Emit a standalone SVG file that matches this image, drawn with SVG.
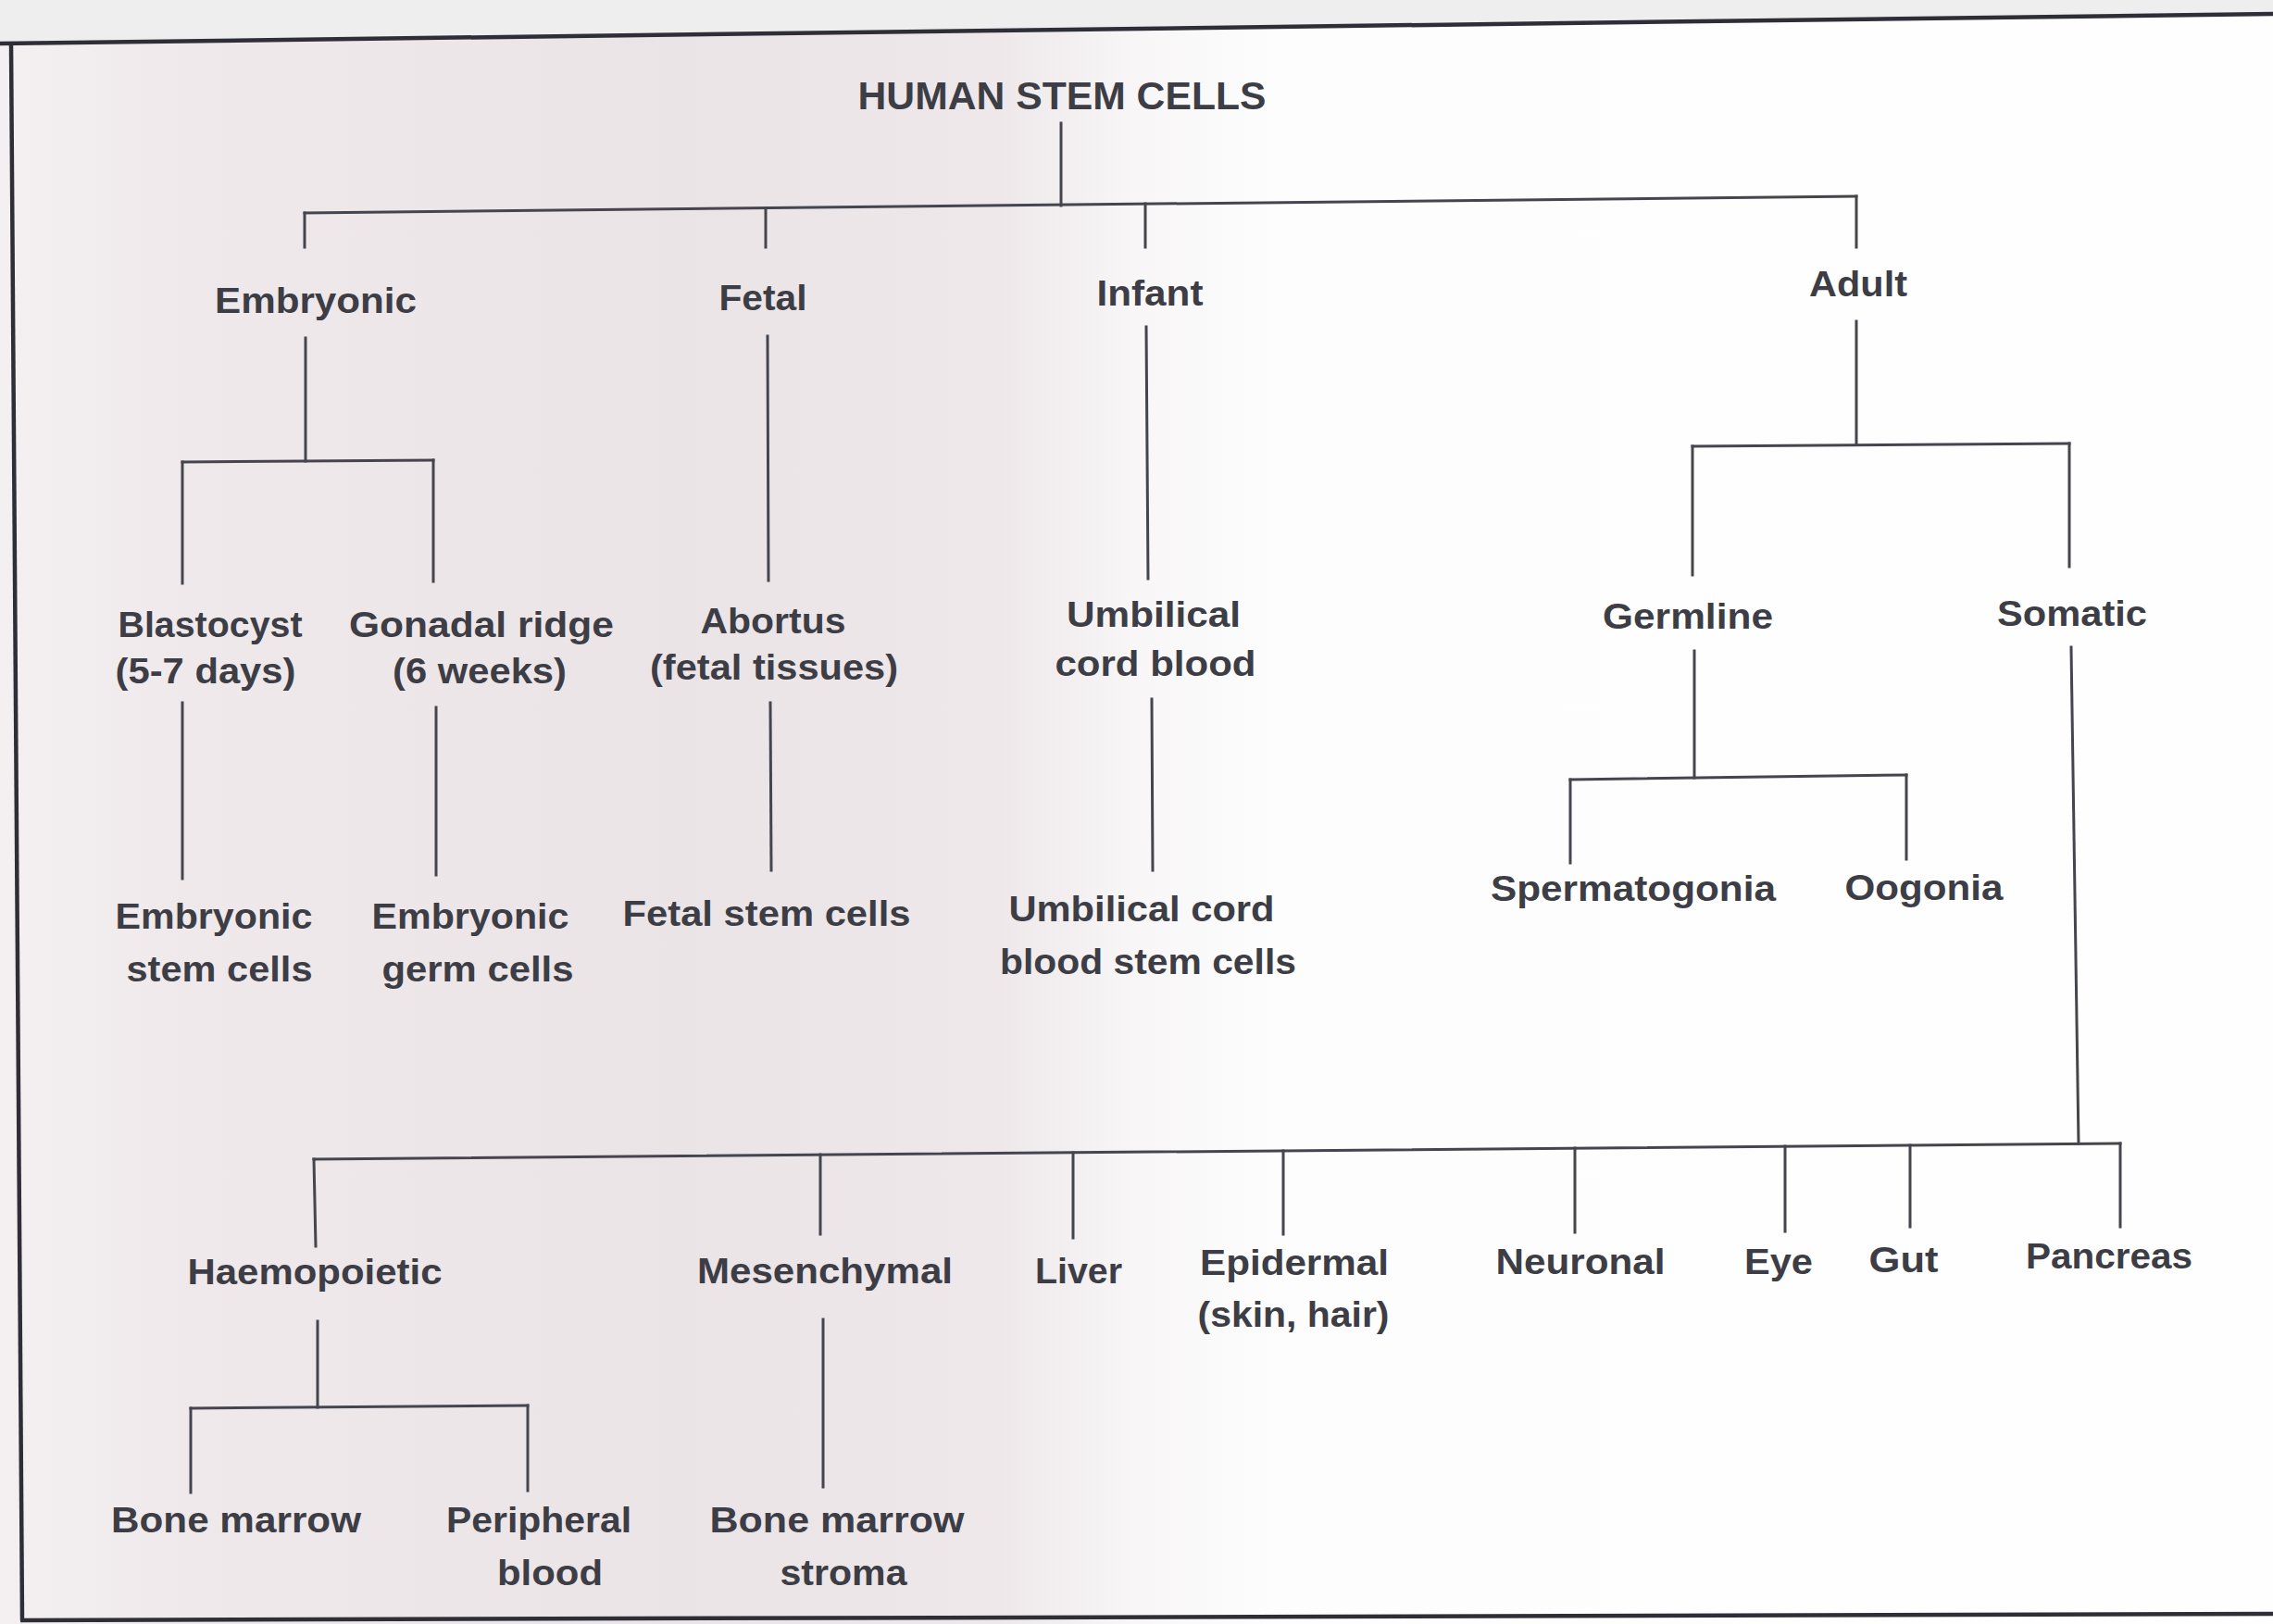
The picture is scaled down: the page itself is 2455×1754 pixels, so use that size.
<svg xmlns="http://www.w3.org/2000/svg" width="2455" height="1754" viewBox="0 0 2455 1754">
<defs>
<linearGradient id="bg" x1="0" y1="0" x2="1" y2="0">
<stop offset="0" stop-color="#f4f0f1"/>
<stop offset="0.08" stop-color="#efe9eb"/>
<stop offset="0.3" stop-color="#ebe4e6"/>
<stop offset="0.44" stop-color="#eee8ea"/>
<stop offset="0.5" stop-color="#f8f6f7"/>
<stop offset="0.56" stop-color="#fdfdfd"/>
<stop offset="1" stop-color="#fefefe"/>
</linearGradient>
<style>
.t{font-family:"Liberation Sans",Arial,sans-serif;font-weight:bold;font-size:39px;fill:#3d3d45;text-anchor:middle}
.root{font-size:43px}
.c{stroke:#45454e;stroke-width:3;fill:none;stroke-linecap:square}
.b{stroke:#2e2e36;stroke-width:4.5;fill:none}
</style>
</defs>
<rect x="0" y="0" width="2455" height="1754" fill="url(#bg)"/>
<polygon points="0,0 2455,0 2455,15 0,47" fill="#eeeeee"/>
<g id="frame">
<line class="b" x1="0" y1="47" x2="2455" y2="15"/>
<line class="b" x1="12" y1="47" x2="24" y2="1750"/>
<line class="b" x1="22" y1="1750" x2="2455" y2="1743"/>
</g>
<g id="connectors">
<line class="c" x1="1146" y1="133" x2="1146" y2="222"/>
<line class="c" x1="329" y1="230" x2="2005" y2="212"/>
<line class="c" x1="329" y1="230" x2="329" y2="267"/>
<line class="c" x1="827" y1="225" x2="827" y2="267"/>
<line class="c" x1="1237" y1="220" x2="1237" y2="267"/>
<line class="c" x1="2005" y1="212" x2="2005" y2="267"/>
<line class="c" x1="330" y1="365" x2="330" y2="498"/>
<line class="c" x1="197" y1="499" x2="468" y2="497"/>
<line class="c" x1="197" y1="499" x2="197" y2="630"/>
<line class="c" x1="468" y1="497" x2="468" y2="628"/>
<line class="c" x1="829" y1="363" x2="830" y2="627"/>
<line class="c" x1="1238" y1="353" x2="1240" y2="625"/>
<line class="c" x1="2005" y1="347" x2="2005" y2="480"/>
<line class="c" x1="1828" y1="482" x2="2235" y2="479"/>
<line class="c" x1="1828" y1="482" x2="1828" y2="621"/>
<line class="c" x1="2235" y1="479" x2="2235" y2="612"/>
<line class="c" x1="197" y1="759" x2="197" y2="949"/>
<line class="c" x1="471" y1="764" x2="471" y2="945"/>
<line class="c" x1="832" y1="759" x2="833" y2="940"/>
<line class="c" x1="1244" y1="755" x2="1245" y2="940"/>
<line class="c" x1="1830" y1="703" x2="1830" y2="840"/>
<line class="c" x1="1696" y1="842" x2="2059" y2="837"/>
<line class="c" x1="1696" y1="842" x2="1696" y2="932"/>
<line class="c" x1="2059" y1="837" x2="2059" y2="928"/>
<line class="c" x1="2237" y1="699" x2="2245" y2="1235"/>
<line class="c" x1="339" y1="1252" x2="2290" y2="1235"/>
<line class="c" x1="339" y1="1252" x2="341" y2="1346"/>
<line class="c" x1="886" y1="1247" x2="886" y2="1333"/>
<line class="c" x1="1159" y1="1245" x2="1159" y2="1337"/>
<line class="c" x1="1386" y1="1243" x2="1386" y2="1333"/>
<line class="c" x1="1701" y1="1240" x2="1701" y2="1331"/>
<line class="c" x1="1928" y1="1238" x2="1928" y2="1330"/>
<line class="c" x1="2063" y1="1237" x2="2063" y2="1325"/>
<line class="c" x1="2290" y1="1235" x2="2290" y2="1325"/>
<line class="c" x1="343" y1="1427" x2="343" y2="1520"/>
<line class="c" x1="206" y1="1521" x2="570" y2="1518"/>
<line class="c" x1="206" y1="1521" x2="206" y2="1612"/>
<line class="c" x1="570" y1="1518" x2="570" y2="1610"/>
<line class="c" x1="889" y1="1425" x2="889" y2="1606"/>
</g>
<g id="n-root"><text class="t root" x="1147" y="118" textLength="441" lengthAdjust="spacingAndGlyphs">HUMAN STEM CELLS</text></g>
<g id="n-embryonic"><text class="t" x="341" y="338" textLength="218" lengthAdjust="spacingAndGlyphs">Embryonic</text></g>
<g id="n-fetal"><text class="t" x="824" y="335" textLength="95" lengthAdjust="spacingAndGlyphs">Fetal</text></g>
<g id="n-infant"><text class="t" x="1242" y="330" textLength="115" lengthAdjust="spacingAndGlyphs">Infant</text></g>
<g id="n-adult"><text class="t" x="2007" y="320" textLength="106" lengthAdjust="spacingAndGlyphs">Adult</text></g>
<g id="n-blastocyst"><text class="t" x="227" y="688" textLength="199" lengthAdjust="spacingAndGlyphs">Blastocyst</text><text class="t" x="222" y="738" textLength="195" lengthAdjust="spacingAndGlyphs">(5-7 days)</text></g>
<g id="n-gonadal"><text class="t" x="520" y="688" textLength="286" lengthAdjust="spacingAndGlyphs">Gonadal ridge</text><text class="t" x="518" y="738" textLength="188" lengthAdjust="spacingAndGlyphs">(6 weeks)</text></g>
<g id="n-abortus"><text class="t" x="835" y="684" textLength="157" lengthAdjust="spacingAndGlyphs">Abortus</text><text class="t" x="836" y="734" textLength="268" lengthAdjust="spacingAndGlyphs">(fetal tissues)</text></g>
<g id="n-ucb"><text class="t" x="1246" y="677" textLength="188" lengthAdjust="spacingAndGlyphs">Umbilical</text><text class="t" x="1248" y="730" textLength="217" lengthAdjust="spacingAndGlyphs">cord blood</text></g>
<g id="n-germline"><text class="t" x="1823" y="679" textLength="184" lengthAdjust="spacingAndGlyphs">Germline</text></g>
<g id="n-somatic"><text class="t" x="2238" y="676" textLength="162" lengthAdjust="spacingAndGlyphs">Somatic</text></g>
<g id="n-esc"><text class="t" x="231" y="1003" textLength="213" lengthAdjust="spacingAndGlyphs">Embryonic</text><text class="t" x="237" y="1060" textLength="201" lengthAdjust="spacingAndGlyphs">stem cells</text></g>
<g id="n-egc"><text class="t" x="508" y="1003" textLength="213" lengthAdjust="spacingAndGlyphs">Embryonic</text><text class="t" x="516" y="1060" textLength="207" lengthAdjust="spacingAndGlyphs">germ cells</text></g>
<g id="n-fsc"><text class="t" x="828" y="1000" textLength="311" lengthAdjust="spacingAndGlyphs">Fetal stem cells</text></g>
<g id="n-ucbsc"><text class="t" x="1233" y="995" textLength="287" lengthAdjust="spacingAndGlyphs">Umbilical cord</text><text class="t" x="1240" y="1052" textLength="320" lengthAdjust="spacingAndGlyphs">blood stem cells</text></g>
<g id="n-spermatogonia"><text class="t" x="1764" y="973" textLength="308" lengthAdjust="spacingAndGlyphs">Spermatogonia</text></g>
<g id="n-oogonia"><text class="t" x="2078" y="972" textLength="171" lengthAdjust="spacingAndGlyphs">Oogonia</text></g>
<g id="n-haemopoietic"><text class="t" x="340" y="1387" textLength="275" lengthAdjust="spacingAndGlyphs">Haemopoietic</text></g>
<g id="n-mesenchymal"><text class="t" x="891" y="1386" textLength="276" lengthAdjust="spacingAndGlyphs">Mesenchymal</text></g>
<g id="n-liver"><text class="t" x="1165" y="1386" textLength="94" lengthAdjust="spacingAndGlyphs">Liver</text></g>
<g id="n-epidermal"><text class="t" x="1398" y="1377" textLength="204" lengthAdjust="spacingAndGlyphs">Epidermal</text><text class="t" x="1397" y="1433" textLength="207" lengthAdjust="spacingAndGlyphs">(skin, hair)</text></g>
<g id="n-neuronal"><text class="t" x="1707" y="1376" textLength="183" lengthAdjust="spacingAndGlyphs">Neuronal</text></g>
<g id="n-eye"><text class="t" x="1921" y="1376" textLength="74" lengthAdjust="spacingAndGlyphs">Eye</text></g>
<g id="n-gut"><text class="t" x="2056" y="1374" textLength="75" lengthAdjust="spacingAndGlyphs">Gut</text></g>
<g id="n-pancreas"><text class="t" x="2278" y="1370" textLength="180" lengthAdjust="spacingAndGlyphs">Pancreas</text></g>
<g id="n-bonemarrow"><text class="t" x="255" y="1655" textLength="270" lengthAdjust="spacingAndGlyphs">Bone marrow</text></g>
<g id="n-peripheral"><text class="t" x="582" y="1655" textLength="200" lengthAdjust="spacingAndGlyphs">Peripheral</text><text class="t" x="594" y="1712" textLength="114" lengthAdjust="spacingAndGlyphs">blood</text></g>
<g id="n-stroma"><text class="t" x="904" y="1655" textLength="275" lengthAdjust="spacingAndGlyphs">Bone marrow</text><text class="t" x="911" y="1712" textLength="137" lengthAdjust="spacingAndGlyphs">stroma</text></g>
</svg>
